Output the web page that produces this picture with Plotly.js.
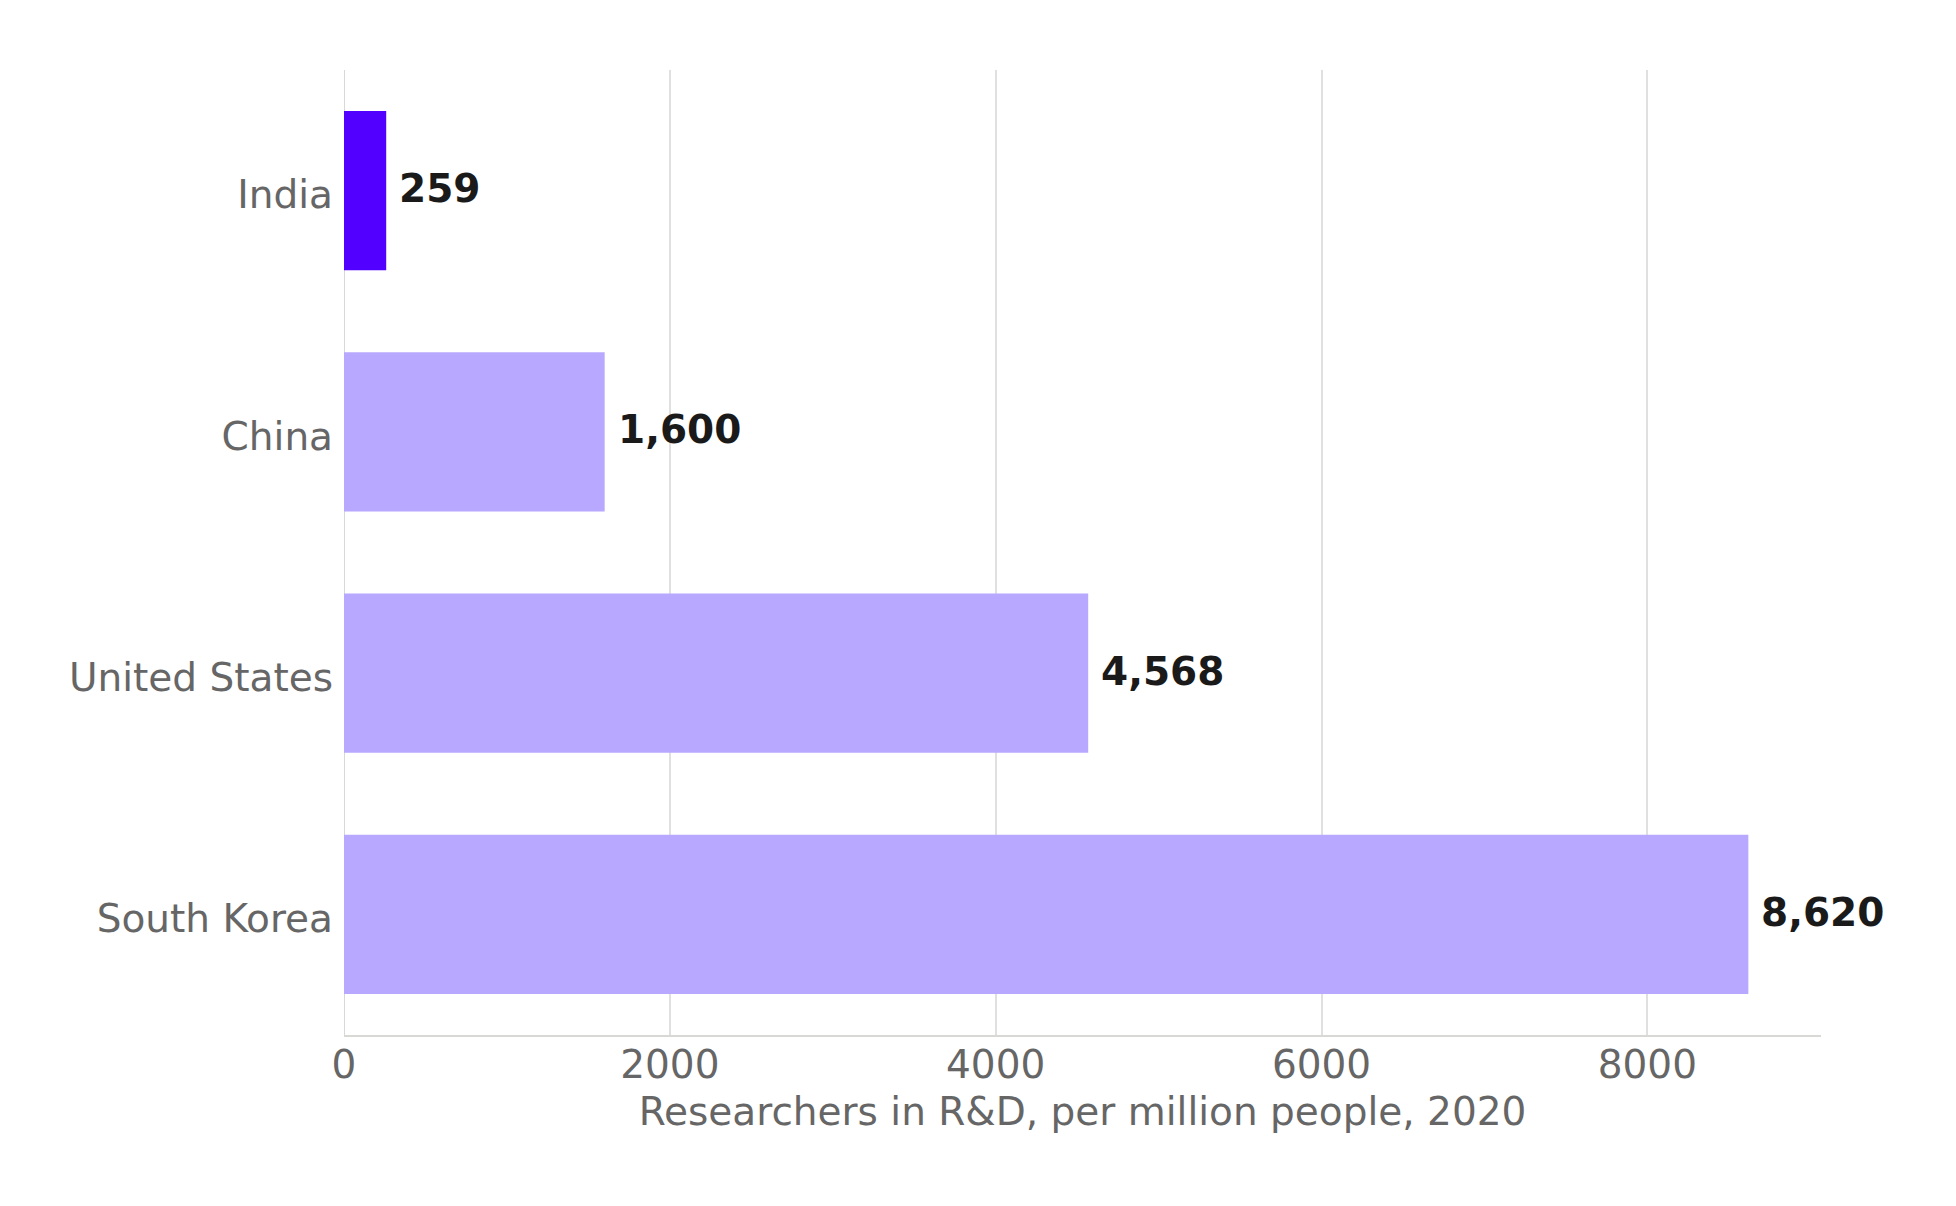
<!DOCTYPE html>
<html>
<head>
<meta charset="utf-8">
<script src="https://cdn.plot.ly/plotly-3.0.1.min.js"></script>
<style>
  html, body { margin: 0; padding: 0; background: #ffffff; }
  #chart { width: 1956px; height: 1206px; }
</style>
</head>
<body>
<div id="chart"></div>
<script>
// Researchers in R&D per million people, 2020
const countries = ["India", "China", "United States", "South Korea"];
const researchers = [259, 1600, 4568, 8620];
const highlight = "India";
const xTicks = [0, 2000, 4000, 6000, 8000];

const barColors = countries.map(c => c === highlight ? "#5200ff" : "#b8a8ff");

const fontFamily = "DejaVu Sans, sans-serif";
const fontSize = 39;

const labels = countries.map((c, i) => ({
  x: researchers[i],
  y: c,
  xref: "x",
  yref: "y",
  text: "<b>" + researchers[i].toLocaleString("en-US") + "</b>",
  showarrow: false,
  xanchor: "left",
  yanchor: "middle",
  xshift: 11,
  yshift: 2,
  font: { family: fontFamily, size: fontSize, color: "#1a1a1a" }
}));

const trace = {
  type: "bar",
  orientation: "h",
  x: researchers,
  y: countries,
  marker: { color: barColors, line: { width: 0 } },
  width: 0.66,
  hoverinfo: "skip"
};

const layout = {
  width: 1956,
  height: 1206,
  paper_bgcolor: "#ffffff",
  plot_bgcolor: "#ffffff",
  margin: { l: 344, r: 135, t: 70, b: 171 },
  showlegend: false,
  font: { family: fontFamily, size: fontSize, color: "#666666" },
  xaxis: {
    range: [0, 9066],
    tickvals: xTicks,
    ticktext: xTicks.map(String),
    showgrid: true,
    gridcolor: "#e0e0e0",
    gridwidth: 2,
    zeroline: false,
    showline: true,
    linecolor: "#d8d8d4",
    linewidth: 2,
    ticks: "",
    ticklabelstandoff: -6,
    tickfont: { family: fontFamily, size: fontSize, color: "#666666" },
    title: {
      text: "Researchers in R&D, per million people, 2020",
      font: { family: fontFamily, size: fontSize, color: "#666666" },
      standoff: 12
    }
  },
  yaxis: {
    type: "category",
    autorange: false,
    range: [3.5, -0.5],
    showgrid: false,
    zeroline: false,
    showline: false,
    ticks: "",
    ticklabelstandoff: 10,
    ticklabelshift: -4,
    tickfont: { family: fontFamily, size: fontSize, color: "#666666" }
  },
  shapes: [{
    type: "line",
    xref: "x",
    yref: "paper",
    x0: 0, x1: 0, y0: 0, y1: 1,
    line: { color: "#d8d8d4", width: 2 },
    layer: "below"
  }],
  annotations: labels
};

Plotly.newPlot("chart", [trace], layout, { displayModeBar: false, staticPlot: true });
</script>
</body>
</html>
